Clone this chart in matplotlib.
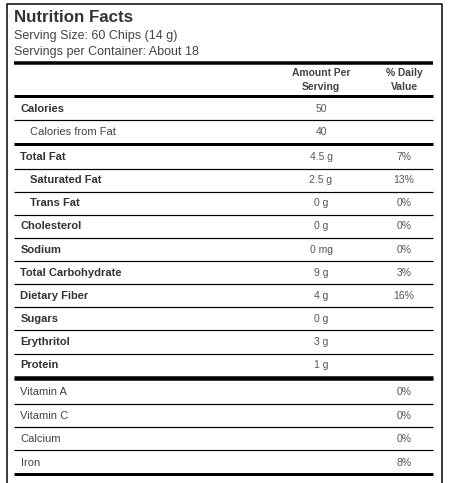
import matplotlib
matplotlib.use("Agg")
import matplotlib.pyplot as plt

plt.rcParams['font.family'] = ['Liberation Sans', 'DejaVu Sans']

title = "Nutrition Facts"
serving_size = "Serving Size: 60 Chips (14 g)"
servings = "Servings per Container: About 18"

# main nutrient rows
labels = ["Calories", "Calories from Fat", "Total Fat", "Saturated Fat", "Trans Fat",
          "Cholesterol", "Sodium", "Total Carbohydrate", "Dietary Fiber", "Sugars",
          "Erythritol", "Protein"]
amounts = ["50", "40", "4.5 g", "2.5 g", "0 g", "0 g", "0 mg", "9 g", "4 g", "0 g", "3 g", "1 g"]
daily = ["", "", "7%", "13%", "0%", "0%", "0%", "3%", "16%", "", "", ""]

# vitamins / minerals
vitamins = ["Vitamin A", "Vitamin C", "Calcium", "Iron"]
vitamin_dv = ["0%", "0%", "0%", "8%"]

indented = ["Calories from Fat", "Saturated Fat", "Trans Fat"]

DARK = "#333333"
GREY = "#555555"

fig = plt.figure(figsize=(4.5, 4.83), dpi=100)
ax = fig.add_axes([0, 0, 1, 1])
ax.set_xlim(0, 450)
ax.set_ylim(483, 0)
ax.axis("off")

px = 0.72  # points per pixel at dpi 100

# outer box (bottom is cut off)
ax.plot([6.5, 6.5, 441.5, 441.5], [490, 4, 4, 490], color="black", lw=1.5 * px)

x0, x1 = 14, 433
xa, xd = 321, 404


def hline(y, w):
    ax.plot([x0, x1], [y, y], color="black", lw=w * px, solid_capstyle="butt")


def row_text(yc, label, amt, dv, bold=True, indent=False):
    yb = yc + 4
    ax.text(30 if indent else 20.5, yb, label, fontsize=8, va="baseline",
            fontweight="bold" if bold else "normal", color=DARK if bold else "#444444")
    if amt:
        ax.text(xa, yb, amt, fontsize=7.5, va="baseline", ha="center", color=GREY)
    if dv:
        ax.text(xd, yb, dv, fontsize=7.5, va="baseline", ha="center", color=GREY)


ax.text(14, 22, title, fontsize=12.2, fontweight="bold", color=DARK, va="baseline")
ax.text(14, 38.5, serving_size, fontsize=9, color="#444444", va="baseline")
ax.text(14, 54.5, servings, fontsize=9, color="#444444", va="baseline")

hline(62.5, 3.5)
ax.text(xa, 76.5, "Amount Per", fontsize=7.4, fontweight="bold", ha="center", va="baseline", color="#444444")
ax.text(xa, 89.5, "Serving", fontsize=7.4, fontweight="bold", ha="center", va="baseline", color="#444444")
ax.text(xd, 76.5, "% Daily", fontsize=7.4, fontweight="bold", ha="center", va="baseline", color="#444444")
ax.text(xd, 89.5, "Value", fontsize=7.4, fontweight="bold", ha="center", va="baseline", color="#444444")
hline(96, 3)

# calories block
row_text(108, labels[0], amounts[0], daily[0])
hline(120, 1.2)
row_text(131, labels[1], amounts[1], daily[1], bold=False, indent=True)
hline(144, 3)

# nutrient rows
top = 145.6
pitch = 23.1
for i in range(2, len(labels)):
    k = i - 2
    yc = top + pitch * k + pitch / 2 - 1
    row_text(yc, labels[i], amounts[i], daily[i], indent=labels[i] in indented)
    if i < len(labels) - 1:
        hline(top + pitch * (k + 1), 1.2)

hline(378, 4.5)

vtop = 380.2
vpitch = 23.4
for j in range(len(vitamins)):
    yc = vtop + vpitch * j + vpitch / 2 - 0.5
    row_text(yc, vitamins[j], "", vitamin_dv[j], bold=False)
    if j < len(vitamins) - 1:
        hline(vtop + vpitch * (j + 1), 1.2)

hline(474, 3)

fig.savefig("out.png", dpi=100)
